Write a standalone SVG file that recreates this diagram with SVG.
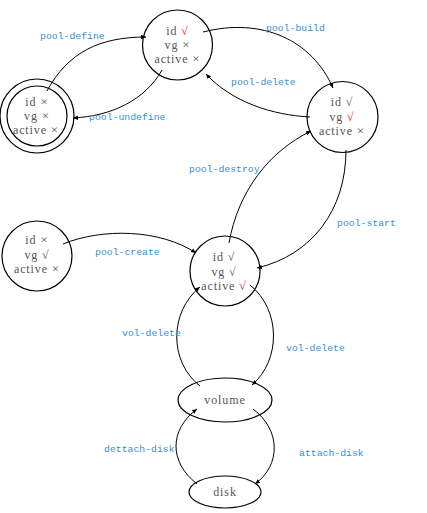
<svg xmlns="http://www.w3.org/2000/svg" width="427" height="513" viewBox="0 0 427 513">
<defs>
<marker id="ah" markerWidth="6" markerHeight="6" refX="5" refY="3" orient="auto" markerUnits="userSpaceOnUse">
<path d="M0,0.8 L5,3 L0,5.2 Z" fill="#000"/>
</marker>
</defs>
<style>
.n{fill:#fff;stroke:#000;stroke-width:1.2}
.t{font-family:"Liberation Serif",serif;font-size:12px;letter-spacing:0.9px;fill:#555;text-anchor:middle}
.r{fill:#e82020}
.x{font-size:13px}
.l{font-family:"Liberation Mono",monospace;font-size:9.8px;fill:#3490d8}
.e{fill:none;stroke:#000;stroke-width:1;marker-end:url(#ah)}
</style>
<rect width="427" height="513" fill="#fff"/>
<g id="n_init">
<circle class="n" cx="37" cy="116" r="37"/>
<circle class="n" cx="37" cy="116" r="30"/>
<text class="t" x="37" y="106">id <tspan class="x">×</tspan></text>
<text class="t" x="37" y="120">vg <tspan class="x">×</tspan></text>
<text class="t" x="36" y="134">active <tspan class="x">×</tspan></text>
</g>
<g id="n_defined">
<circle class="n" cx="177.5" cy="45" r="35"/>
<text class="t" x="177.5" y="35">id <tspan class="r">√</tspan></text>
<text class="t" x="177.5" y="49">vg <tspan class="x">×</tspan></text>
<text class="t" x="177.5" y="63">active <tspan class="x">×</tspan></text>
</g>
<g id="n_built">
<circle class="n" cx="342.5" cy="117" r="35.5"/>
<text class="t" x="342" y="106">id √</text>
<text class="t" x="342" y="121">vg <tspan class="r">√</tspan></text>
<text class="t" x="342" y="135">active <tspan class="x">×</tspan></text>
</g>
<g id="n_vg">
<circle class="n" cx="37" cy="256" r="35"/>
<text class="t" x="37" y="244">id <tspan class="x">×</tspan></text>
<text class="t" x="37" y="259">vg √</text>
<text class="t" x="37" y="273">active <tspan class="x">×</tspan></text>
</g>
<g id="n_active">
<circle class="n" cx="225" cy="271" r="35"/>
<text class="t" x="224" y="261">id √</text>
<text class="t" x="224" y="276">vg √</text>
<text class="t" x="224" y="290">active <tspan class="r">√</tspan></text>
</g>
<g id="n_volume">
<ellipse class="n" cx="225" cy="400" rx="47" ry="22"/>
<text class="t" x="225" y="404">volume</text>
</g>
<g id="n_disk">
<ellipse class="n" cx="225" cy="492" rx="36" ry="16"/>
<text class="t" x="225" y="496">disk</text>
</g>
<g id="connectors">
<path class="e" d="M47,91 C68,52 100,37 146,37"/>
<path class="e" d="M162,70 C145,100 112,116 73,118"/>
<path class="e" d="M203,32 C262,17 312,40 333,88"/>
<path class="e" d="M310,117 C272,115 232,102 206,74"/>
<path class="e" d="M229,243 C238,192 268,152 311,131"/>
<path class="e" d="M346,150 C346,210 312,255 257,268"/>
<path class="e" d="M63,244 C102,228 160,229 196,253"/>
<path class="e" d="M200,386 C169,362 169,312 200,287"/>
<path class="e" d="M250,285 C281,310 281,360 252,385"/>
<path class="e" d="M197,484 C169,462 169,430 197,409"/>
<path class="e" d="M253,409 C281,430 281,465 255,484"/>
</g>
<g id="labels">
<text class="l" x="40" y="39">pool-define</text>
<text class="l" x="266" y="31">pool-build</text>
<text class="l" x="231" y="85">pool-delete</text>
<text class="l" x="89" y="120">pool-undefine</text>
<text class="l" x="189" y="172">pool-destroy</text>
<text class="l" x="337" y="226">pool-start</text>
<text class="l" x="95" y="255">pool-create</text>
<text class="l" x="122" y="336">vol-delete</text>
<text class="l" x="286" y="351">vol-delete</text>
<text class="l" x="104" y="452">dettach-disk</text>
<text class="l" x="299" y="456">attach-disk</text>
</g>
</svg>
